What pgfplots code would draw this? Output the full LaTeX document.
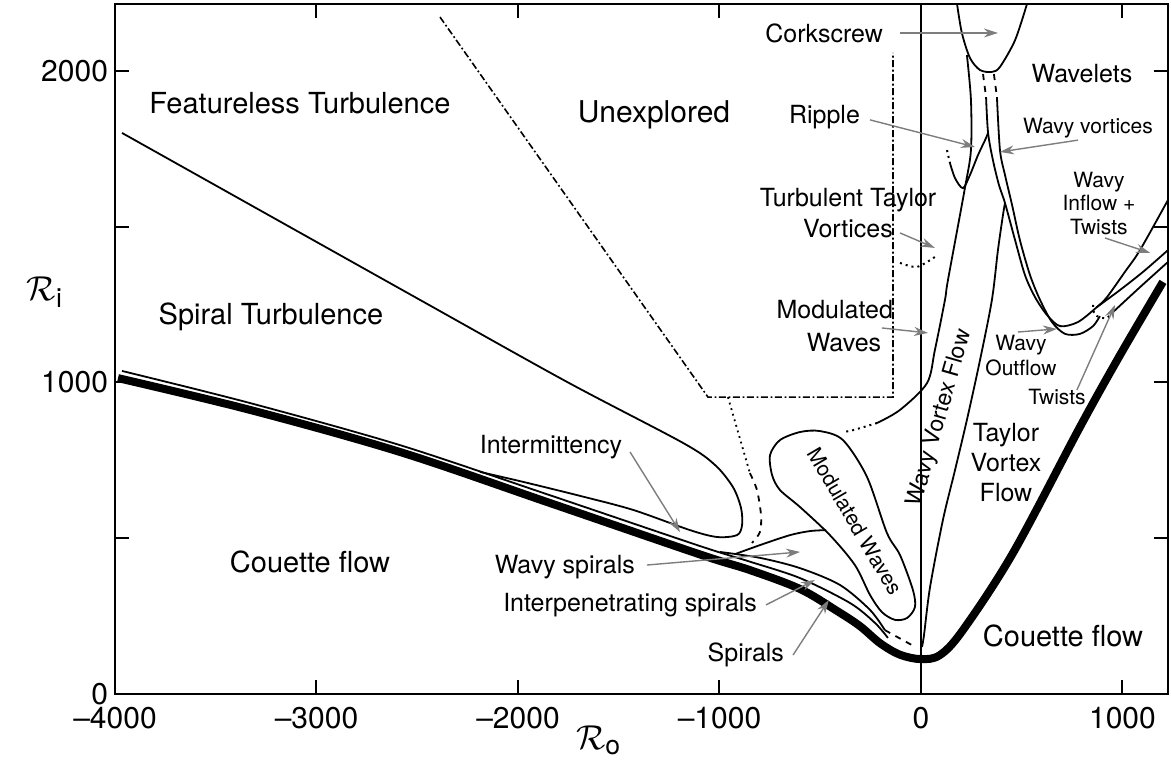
\documentclass[border=0pt]{standalone}
\usepackage{fontspec}
\setmainfont{TeX Gyre Heros}
\usepackage{amsmath}
\usepackage{pgfplots}
\pgfplotsset{compat=1.18}
\usetikzlibrary{arrows.meta}
\definecolor{arrowgray}{RGB}{125,125,125}

\begin{document}
\begin{tikzpicture}[
  bnd/.style={black, line width=0.9pt, smooth, tension=0.5},
  lbl/.style={font=\fontsize{12.5}{15.5}\selectfont, align=center},
  sml/.style={font=\fontsize{10.5}{12}\selectfont, align=center},
  big/.style={font=\fontsize{14.5}{17}\selectfont},
  ptr/.style={-{Stealth[length=7pt,width=4.5pt]}, arrowgray, line width=0.7pt},
]
\begin{axis}[
  scale only axis,
  width=526.5pt, height=345pt,
  xmin=-4000, xmax=1226, ymin=0, ymax=2215,
  xtick={-4000,-3000,-2000,-1000,0,1000},
  xticklabels={\textendash4000,\textendash3000,\textendash2000,\textendash1000,0,1000},
  ytick={0,500,1000,1500,2000},
  yticklabels={0,,1000,,2000},
  tick align=inside,
  major tick length=7pt,
  tick style={line width=1pt, black},
  axis line style={line width=1.2pt},
  ticklabel style={font=\fontsize{15}{18}\selectfont},
  xticklabel style={yshift=-3pt},
  /pgf/number format/assume math mode=true,
  clip mode=individual,
  no markers,
]
\coordinate (sw) at (rel axis cs:0,0);
\coordinate (ne) at (rel axis cs:1,1);

% R_o = 0 line
\addplot[black, line width=1pt] coordinates {(0,0) (0,2215)};

% Couette boundary (thick)
\addplot[black, line width=4pt, smooth, tension=0.55] coordinates {
(-3985,1014) (-3330,912) (-2586,777) (-1841,613) (-1097,448) (-850,398)
(-600,337) (-420,268) (-303,218) (-203,163) (-104,126) (0,112) (94,125)
(208,205) (457,453) (789,857) (988,1088) (1201,1323)};

% spirals boundary
\addplot[bnd] coordinates {
(-3965,1037) (-3330,934) (-2586,799) (-1841,638) (-1097,475) (-850,425)
(-600,372) (-352,292) (-228,228) (-164,180)};
% interpenetrating spirals boundary
\addplot[bnd] coordinates {
(-998,456) (-799,437) (-600,404) (-402,350) (-253,270) (-179,205)};
% wavy spirals boundary
\addplot[bnd] coordinates {
(-923,449) (-799,478) (-650,510) (-551,523) (-471,526)};

% featureless / spiral turbulence tongue
\addplot[bnd] coordinates {
(-3965,1801) (-2486,1265) (-1757,1002) (-1181,806) (-1022,735) (-933,664)
(-893,597) (-888,542) (-913,510) (-1012,504) (-1146,526) (-1429,591)
(-1692,636) (-1975,681) (-2189,713)};

% modulated waves loop
\addplot[bnd, smooth cycle] coordinates {
(-600,841) (-700,815) (-749,767) (-739,703) (-700,655) (-600,600)
(-452,510) (-328,414) (-253,318) (-194,263) (-129,238) (-69,244)
(-30,279) (-40,334) (-104,446) (-169,517) (-268,697) (-387,815) (-501,844)};

% unexplored region (dash-dot)
\addplot[black, line width=0.8pt, dash pattern=on 3.5pt off 1.3pt on 0.9pt off 1.3pt] coordinates {
(-2387,2173) (-1057,953) (-139,953) (-139,2058)};
\addplot[black, line width=0.9pt, dotted] coordinates {(-958,953) (-849,709)};
\addplot[black, line width=0.9pt, dashed, smooth, tension=0.5] coordinates {
(-849,709) (-814,655) (-794,575) (-799,520) (-839,485)};
\addplot[black, line width=0.9pt, dashed] coordinates {(-179,205) (-45,157)};

% Taylor vortex / wavy vortex boundary
\addplot[bnd] coordinates {
(5,151) (15,189) (45,343) (109,559) (169,719) (228,880) (293,1072)
(352,1265) (382,1425) (407,1538) (417,1576)};

% modulated wavy vortex boundary
\addplot[bnd] coordinates {
(228,2051) (248,1907) (248,1746) (218,1624) (134,1329) (119,1265)
(69,1104) (30,998) (-104,912) (-218,870)};
\addplot[black, line width=1pt, dotted, smooth] coordinates {(-218,870) (-337,847) (-387,841)};

% ripple
\addplot[black, line width=1pt, dotted] coordinates {(129,1746) (144,1704)};
\addplot[bnd] coordinates {
(144,1704) (169,1656) (208,1624) (243,1666) (283,1730) (318,1778) (333,1801)};

% corkscrew
\addplot[bnd] coordinates {
(179,2215) (203,2122) (243,2042) (293,2003) (352,1997) (392,2013) (467,2099) (526,2215)};

% wavy vortices double line and wavelets
\addplot[black, line width=0.9pt, dashed] coordinates {(308,1990) (323,1916)};
\addplot[black, line width=0.9pt, dashed] coordinates {(362,1990) (377,1916)};
\addplot[bnd] coordinates {
(323,1916) (333,1801) (357,1714) (387,1634) (417,1576) (467,1457) (516,1345)
(566,1274) (625,1217) (690,1181) (779,1194) (873,1242) (923,1274)
(1012,1355) (1087,1425) (1226,1586)};
\addplot[bnd] coordinates {(873,1242) (988,1297) (1102,1355) (1226,1425)};
\addplot[bnd] coordinates {
(377,1916) (392,1746) (417,1666) (452,1570) (491,1457) (541,1345) (591,1265)
(650,1194) (715,1156) (789,1156) (854,1181) (888,1213)};
\addplot[bnd] coordinates {(953,1226) (1087,1306) (1226,1387)};
\addplot[black, line width=1pt, dotted, smooth] coordinates {
(854,1249) (864,1217) (923,1207) (963,1239)};

% turbulent Taylor vortices
\addplot[black, line width=1pt, dotted, smooth] coordinates {(-104,1384) (-20,1371) (69,1403)};

% labels
\node[big] at (axis cs:-3082,1897) {Featureless Turbulence};
\node[font=\fontsize{15}{18}\selectfont] at (axis cs:-1325,1859) {Unexplored};
\node[big] at (axis cs:-3226,1210) {Spiral Turbulence};
\node[big] at (axis cs:-3032,424) {Couette flow};
\node[big] at (axis cs:705,186) {Couette flow};
\node[lbl] at (axis cs:-1836,793) {Intermittency};
\node[lbl, anchor=east] at (axis cs:-1385,408) {Wavy spirals};
\node[lbl, anchor=east] at (axis cs:-779,286) {Interpenetrating spirals};
\node[lbl, anchor=east] at (axis cs:-645,125) {Spirals};
\node[lbl, anchor=east] at (axis cs:-154,2122) {Corkscrew};
\node[lbl, anchor=east] at (axis cs:-268,1852) {Ripple};
\node[lbl] at (axis cs:799,1993) {Wavelets};
\node[sml] at (axis cs:829,1817) {Wavy vortices};
\node[lbl] at (axis cs:-362,1544) {Turbulent Taylor\\Vortices};
\node[lbl, anchor=east] at (axis cs:-104,1233) {Modulated};
\node[lbl] at (axis cs:-382,1127) {Waves};
\node[lbl, font=\fontsize{12.5}{15}\selectfont] at (axis cs:422,742) {Taylor\\Vortex\\Flow};
\node[sml, font=\fontsize{10.5}{12.5}\selectfont] at (axis cs:496,1088) {Wavy\\Outflow};
\node[sml] at (axis cs:675,953) {Twists};
\node[sml, font=\fontsize{10.5}{11.75}\selectfont] at (axis cs:883,1576) {Wavy\\Inflow +\\Twists};
\node[font=\fontsize{11.5}{14}\selectfont, rotate=74] at (axis cs:94,886) {Wavy Vortex Flow};
\node[font=\fontsize{10.5}{12}\selectfont, rotate=-59.6] at (axis cs:-328,555) {Modulated Waves};

% pointers
\draw[ptr] (axis cs:-104,2122) -- (axis cs:382,2122);
\draw[ptr] (axis cs:-253,1843) -- (axis cs:268,1756);
\draw[ptr] (axis cs:779,1778) -- (axis cs:392,1740);
\draw[ptr] (axis cs:-104,1480) -- (axis cs:69,1432);
\draw[ptr] (axis cs:-194,1175) -- (axis cs:35,1159);
\draw[ptr] (axis cs:913,1464) -- (axis cs:1137,1416);
\draw[ptr] (axis cs:481,1162) -- (axis cs:675,1172);
\draw[ptr] (axis cs:774,976) -- (axis cs:963,1249);
\draw[ptr] (axis cs:-1444,777) -- (axis cs:-1196,520);
\draw[ptr] (axis cs:-1360,414) -- (axis cs:-600,456);
\draw[ptr] (axis cs:-769,286) -- (axis cs:-526,366);
\draw[ptr] (axis cs:-635,125) -- (axis cs:-457,302);

% axis names
\node[font=\fontsize{19}{23}\selectfont] at (axis cs:-4348,1290) {$\mathcal{R}_{\text{i}}$};
\node[font=\fontsize{19}{23}\selectfont] at (axis cs:-1600,-148) {$\mathcal{R}_{\text{o}}$};
\end{axis}
\pgfresetboundingbox
\path[use as bounding box] ([xshift=-57.5pt,yshift=-35.5pt]sw) rectangle ([xshift=1.5pt,yshift=2pt]ne);
\end{tikzpicture}
\end{document}
